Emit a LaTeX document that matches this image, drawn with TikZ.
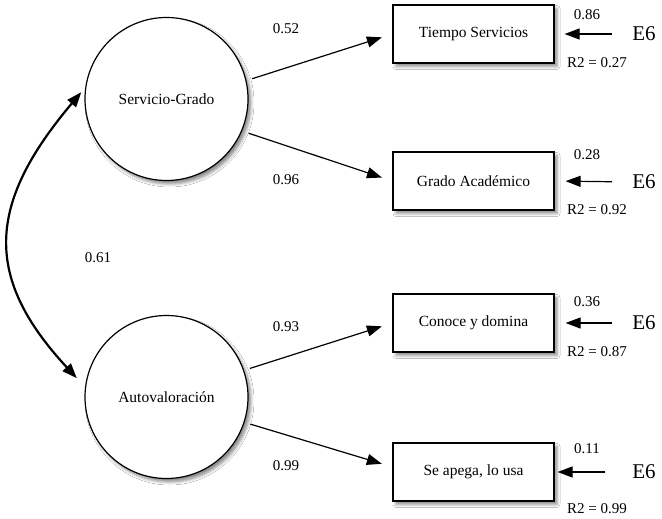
\documentclass[tikz,border=0pt]{standalone}
\usepackage{fontspec}
\setmainfont{Liberation Serif}
\usetikzlibrary{arrows.meta,shadows.blur}
\begin{document}
\begin{tikzpicture}[x=1pt,y=-1pt,
  shd/.style={blur shadow={shadow xshift=3pt,shadow yshift=-3.5pt,shadow blur radius=3pt,shadow opacity=45}},
  latent/.style={circle,draw,line width=1.2pt,fill=white,minimum size=163pt,inner sep=0pt,shd,font=\fontsize{15.5}{18}\selectfont},
  obs/.style={rectangle,draw,line width=1.2pt,fill=white,minimum width=161pt,minimum height=58pt,inner sep=0pt,shd,font=\fontsize{15.5}{18}\selectfont},
  lbl/.style={inner sep=0pt,font=\fontsize{15}{18}\selectfont},
  err/.style={inner sep=0pt,font=\fontsize{21}{24}\selectfont},
  path/.style={line width=1.2pt,-{Triangle[length=15pt,width=11pt]}},
  corr/.style={line width=2.2pt,{Triangle[length=15pt,width=11pt]}-{Triangle[length=15pt,width=11pt]}}]
\useasboundingbox (0,0) rectangle (662,519);
\fill[white] (0,0) rectangle (662,519);
% latent variables
\node[latent] (c1) at (166.5,99) {Servicio-Grado};
\node[latent] (c2) at (166.5,397) {Autovaloración};
% observed
\node[obs] (b1) at (473.5,34) {Tiempo Servicios};
\node[obs] (b2) at (473.5,181) {Grado Académico};
\node[obs] (b3) at (473.5,323) {Conoce y domina};
\node[obs] (b4) at (473.5,472) {Se apega, lo usa};
% error terms
\node[err] (e1) at (644,34) {E6};
\node[err] (e2) at (644,182) {E6};
\node[err] (e3) at (644,323) {E6};
\node[err] (e4) at (644,472) {E6};
% paths
\draw[path,shorten <=6pt,shorten >=11pt] (c1.13) -- (b1.west);
\draw[path,shorten <=7pt,shorten >=11pt] (c1.-23) -- (b2.west);
\draw[path,shorten <=6pt,shorten >=11pt] (c2.19) -- (b3.west);
\draw[path,shorten <=6pt,shorten >=11pt] (c2.-18) -- ([yshift=5pt]b4.west);
\draw[path,shorten <=20pt,shorten >=10pt] (e1.west) -- (b1.east);
\draw[path,shorten <=20pt,shorten >=11pt] (e2.west) -- (b2.east);
\draw[path,shorten <=20pt,shorten >=11pt] (e3.west) -- (b3.east);
\draw[path,shorten <=27pt,shorten >=3pt] (e4.west) -- (b4.east);
% correlation
\draw[corr,shorten <=6pt,shorten >=12pt] (c1.172) .. controls (-14,205) and (-16,278) .. (c2.173);
% labels
\node[lbl] (l1) at (286,29) {0.52};
\node[lbl] (l2) at (286,180) {0.96};
\node[lbl] (l3) at (286,327) {0.93};
\node[lbl] (l4) at (286,466) {0.99};
\node[lbl] (l5) at (98,258) {0.61};
\node[lbl] (v1) at (587,15) {0.86};
\node[lbl] (r1) at (597,63) {R2 = 0.27};
\node[lbl] (v2) at (587,155) {0.28};
\node[lbl] (r2) at (597,210) {R2 = 0.92};
\node[lbl] (v3) at (587,302) {0.36};
\node[lbl] (r3) at (597,352) {R2 = 0.87};
\node[lbl] (v4) at (587,449) {0.11};
\node[lbl] (r4) at (597,509) {R2 = 0.99};
\end{tikzpicture}
\end{document}
